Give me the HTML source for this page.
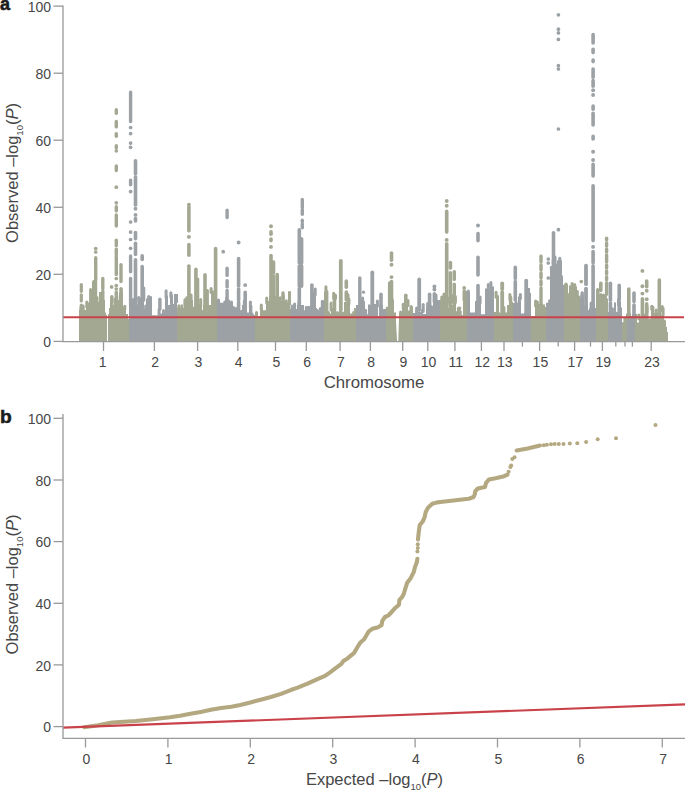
<!DOCTYPE html>
<html><head><meta charset="utf-8"><style>
html,body{margin:0;padding:0;background:#fff;}
body{width:685px;height:791px;overflow:hidden;position:relative;}
svg{position:absolute;left:0;top:0;}
text{font-family:"Liberation Sans",sans-serif;fill:#474747;}
</style></head><body>
<svg width="685" height="791" viewBox="0 0 685 791">
<!-- panel a -->
<text x="0" y="9.7" font-size="18" font-weight="bold" style="fill:#1c1c1c;stroke:#1c1c1c;stroke-width:0.55px">a</text>
<g>
<path d="M79.0,341.4 L79.0,310.0 L86.0,310.0 L86.0,305.0 L89.0,305.0 L89.0,302.0 L92.0,302.0 L92.0,301.5 L98.0,301.5 L98.0,302.0 L99.0,302.0 L99.0,292.0 L104.0,292.0 L104.0,300.0 L105.0,300.0 L105.0,312.5 L106.0,312.5 L106.0,315.0 L107.0,315.0 L107.0,341.4Z" fill="#a3a892"/>
<line x1="81.0" y1="307.0" x2="81.0" y2="312.0" stroke="#a3a892" stroke-width="3" stroke-linecap="round"/>
<line x1="83.2" y1="306.0" x2="83.2" y2="312.0" stroke="#a3a892" stroke-width="3" stroke-linecap="round"/>
<line x1="86.8" y1="302.0" x2="86.8" y2="307.0" stroke="#a3a892" stroke-width="3" stroke-linecap="round"/>
<line x1="88.6" y1="304.0" x2="88.6" y2="307.0" stroke="#a3a892" stroke-width="3" stroke-linecap="round"/>
<line x1="93.4" y1="297.5" x2="93.4" y2="303.5" stroke="#a3a892" stroke-width="3" stroke-linecap="round"/>
<line x1="95.2" y1="300.5" x2="95.2" y2="303.5" stroke="#a3a892" stroke-width="3" stroke-linecap="round"/>
<line x1="97.0" y1="297.5" x2="97.0" y2="303.5" stroke="#a3a892" stroke-width="3" stroke-linecap="round"/>
<path d="M108.0,341.4 L108.0,314.0 L109.0,314.0 L109.0,308.0 L110.0,308.0 L110.0,300.0 L113.0,300.0 L113.0,305.0 L114.0,305.0 L114.0,298.0 L118.0,298.0 L118.0,300.0 L119.0,300.0 L119.0,293.0 L123.0,293.0 L123.0,307.2 L125.0,307.2 L125.0,310.0 L126.0,310.0 L126.0,314.0 L128.0,314.0 L128.0,318.7 L129.0,318.7 L129.0,341.4Z" fill="#a3a892"/>
<line x1="112.0" y1="298.0" x2="112.0" y2="302.0" stroke="#a3a892" stroke-width="3" stroke-linecap="round"/>
<line x1="116.8" y1="296.0" x2="116.8" y2="300.0" stroke="#a3a892" stroke-width="3" stroke-linecap="round"/>
<line x1="121.2" y1="290.0" x2="121.2" y2="295.0" stroke="#a3a892" stroke-width="3" stroke-linecap="round"/>
<line x1="124.8" y1="306.2" x2="124.8" y2="309.2" stroke="#a3a892" stroke-width="3" stroke-linecap="round"/>
<path d="M129.0,341.4 L129.0,304.6 L132.0,304.6 L132.0,304.6 L138.0,304.6 L138.0,298.4 L140.0,298.4 L140.0,300.0 L144.0,300.0 L144.0,309.0 L146.0,309.0 L146.0,298.4 L149.0,298.4 L149.0,296.2 L152.0,296.2 L152.0,315.2 L158.0,315.2 L158.0,313.4 L165.0,313.4 L165.0,295.7 L168.0,295.7 L168.0,305.0 L170.0,305.0 L170.0,294.8 L173.0,294.8 L173.0,304.0 L174.0,304.0 L174.0,293.9 L178.0,293.9 L178.0,302.8 L177.0,302.8 L177.0,341.4Z" fill="#9ca1a5"/>
<line x1="130.5" y1="300.6" x2="130.5" y2="306.6" stroke="#9ca1a5" stroke-width="3" stroke-linecap="round"/>
<line x1="133.1" y1="299.6" x2="133.1" y2="306.6" stroke="#9ca1a5" stroke-width="3" stroke-linecap="round"/>
<line x1="136.1" y1="301.6" x2="136.1" y2="306.6" stroke="#9ca1a5" stroke-width="3" stroke-linecap="round"/>
<line x1="138.7" y1="297.4" x2="138.7" y2="300.4" stroke="#9ca1a5" stroke-width="3" stroke-linecap="round"/>
<line x1="140.9" y1="299.0" x2="140.9" y2="302.0" stroke="#9ca1a5" stroke-width="3" stroke-linecap="round"/>
<line x1="142.7" y1="298.0" x2="142.7" y2="302.0" stroke="#9ca1a5" stroke-width="3" stroke-linecap="round"/>
<line x1="145.7" y1="306.0" x2="145.7" y2="311.0" stroke="#9ca1a5" stroke-width="3" stroke-linecap="round"/>
<line x1="148.7" y1="296.4" x2="148.7" y2="300.4" stroke="#9ca1a5" stroke-width="3" stroke-linecap="round"/>
<line x1="159.1" y1="309.4" x2="159.1" y2="315.4" stroke="#9ca1a5" stroke-width="3" stroke-linecap="round"/>
<line x1="163.5" y1="310.4" x2="163.5" y2="315.4" stroke="#9ca1a5" stroke-width="3" stroke-linecap="round"/>
<line x1="166.1" y1="290.7" x2="166.1" y2="297.7" stroke="#9ca1a5" stroke-width="3" stroke-linecap="round"/>
<line x1="170.9" y1="292.8" x2="170.9" y2="296.8" stroke="#9ca1a5" stroke-width="3" stroke-linecap="round"/>
<path d="M177.0,341.4 L177.0,307.7 L184.0,307.7 L184.0,302.8 L187.0,302.8 L187.0,303.0 L190.0,303.0 L190.0,300.1 L193.0,300.1 L193.0,309.0 L194.0,309.0 L194.0,305.0 L198.0,305.0 L198.0,304.6 L202.0,304.6 L202.0,309.9 L203.0,309.9 L203.0,305.0 L208.0,305.0 L208.0,305.0 L211.0,305.0 L211.0,290.4 L214.0,290.4 L214.0,300.0 L217.0,300.0 L217.0,341.4Z" fill="#a3a892"/>
<line x1="178.9" y1="305.7" x2="178.9" y2="309.7" stroke="#a3a892" stroke-width="3" stroke-linecap="round"/>
<line x1="181.9" y1="305.7" x2="181.9" y2="309.7" stroke="#a3a892" stroke-width="3" stroke-linecap="round"/>
<line x1="184.9" y1="299.8" x2="184.9" y2="304.8" stroke="#a3a892" stroke-width="3" stroke-linecap="round"/>
<line x1="186.7" y1="297.8" x2="186.7" y2="304.8" stroke="#a3a892" stroke-width="3" stroke-linecap="round"/>
<line x1="191.1" y1="295.1" x2="191.1" y2="302.1" stroke="#a3a892" stroke-width="3" stroke-linecap="round"/>
<line x1="192.9" y1="308.0" x2="192.9" y2="311.0" stroke="#a3a892" stroke-width="3" stroke-linecap="round"/>
<line x1="197.7" y1="301.0" x2="197.7" y2="307.0" stroke="#a3a892" stroke-width="3" stroke-linecap="round"/>
<line x1="200.7" y1="299.6" x2="200.7" y2="306.6" stroke="#a3a892" stroke-width="3" stroke-linecap="round"/>
<line x1="205.5" y1="301.0" x2="205.5" y2="307.0" stroke="#a3a892" stroke-width="3" stroke-linecap="round"/>
<line x1="211.1" y1="288.4" x2="211.1" y2="292.4" stroke="#a3a892" stroke-width="3" stroke-linecap="round"/>
<line x1="214.1" y1="297.0" x2="214.1" y2="302.0" stroke="#a3a892" stroke-width="3" stroke-linecap="round"/>
<path d="M217.0,341.4 L217.0,307.2 L220.0,307.2 L220.0,302.8 L224.0,302.8 L224.0,303.0 L229.0,303.0 L229.0,302.8 L233.0,302.8 L233.0,311.6 L236.0,311.6 L236.0,309.0 L240.0,309.0 L240.0,315.2 L242.0,315.2 L242.0,305.0 L247.0,305.0 L247.0,312.5 L249.0,312.5 L249.0,305.9 L252.0,305.9 L252.0,315.0 L255.0,315.0 L255.0,341.4Z" fill="#9ca1a5"/>
<line x1="218.2" y1="306.2" x2="218.2" y2="309.2" stroke="#9ca1a5" stroke-width="3" stroke-linecap="round"/>
<line x1="224.8" y1="302.0" x2="224.8" y2="305.0" stroke="#9ca1a5" stroke-width="3" stroke-linecap="round"/>
<line x1="226.6" y1="298.0" x2="226.6" y2="305.0" stroke="#9ca1a5" stroke-width="3" stroke-linecap="round"/>
<line x1="228.8" y1="301.0" x2="228.8" y2="305.0" stroke="#9ca1a5" stroke-width="3" stroke-linecap="round"/>
<line x1="233.6" y1="307.6" x2="233.6" y2="313.6" stroke="#9ca1a5" stroke-width="3" stroke-linecap="round"/>
<line x1="236.2" y1="308.6" x2="236.2" y2="313.6" stroke="#9ca1a5" stroke-width="3" stroke-linecap="round"/>
<line x1="241.4" y1="311.2" x2="241.4" y2="317.2" stroke="#9ca1a5" stroke-width="3" stroke-linecap="round"/>
<line x1="244.4" y1="301.0" x2="244.4" y2="307.0" stroke="#9ca1a5" stroke-width="3" stroke-linecap="round"/>
<line x1="250.4" y1="301.9" x2="250.4" y2="307.9" stroke="#9ca1a5" stroke-width="3" stroke-linecap="round"/>
<line x1="252.2" y1="314.0" x2="252.2" y2="317.0" stroke="#9ca1a5" stroke-width="3" stroke-linecap="round"/>
<path d="M255.0,341.4 L255.0,313.4 L258.0,313.4 L258.0,316.0 L260.0,316.0 L260.0,308.1 L263.0,308.1 L263.0,310.3 L266.0,310.3 L266.0,301.0 L269.0,301.0 L269.0,300.0 L276.0,300.0 L276.0,302.0 L279.0,302.0 L279.0,302.8 L281.0,302.8 L281.0,301.0 L285.0,301.0 L285.0,302.8 L288.0,302.8 L288.0,291.3 L291.0,291.3 L291.0,305.0 L290.0,305.0 L290.0,341.4Z" fill="#a3a892"/>
<line x1="256.5" y1="312.4" x2="256.5" y2="315.4" stroke="#a3a892" stroke-width="3" stroke-linecap="round"/>
<line x1="261.3" y1="305.1" x2="261.3" y2="310.1" stroke="#a3a892" stroke-width="3" stroke-linecap="round"/>
<line x1="266.7" y1="298.0" x2="266.7" y2="303.0" stroke="#a3a892" stroke-width="3" stroke-linecap="round"/>
<line x1="270.7" y1="296.0" x2="270.7" y2="302.0" stroke="#a3a892" stroke-width="3" stroke-linecap="round"/>
<line x1="272.9" y1="298.0" x2="272.9" y2="302.0" stroke="#a3a892" stroke-width="3" stroke-linecap="round"/>
<line x1="275.5" y1="297.0" x2="275.5" y2="302.0" stroke="#a3a892" stroke-width="3" stroke-linecap="round"/>
<line x1="280.3" y1="297.8" x2="280.3" y2="304.8" stroke="#a3a892" stroke-width="3" stroke-linecap="round"/>
<line x1="283.3" y1="296.0" x2="283.3" y2="303.0" stroke="#a3a892" stroke-width="3" stroke-linecap="round"/>
<line x1="286.3" y1="300.8" x2="286.3" y2="304.8" stroke="#a3a892" stroke-width="3" stroke-linecap="round"/>
<path d="M290.0,341.4 L290.0,309.0 L297.0,309.0 L297.0,305.0 L304.0,305.0 L304.0,310.3 L310.0,310.3 L310.0,310.3 L314.0,310.3 L314.0,293.0 L315.0,293.0 L315.0,308.1 L317.0,308.1 L317.0,311.6 L321.0,311.6 L321.0,301.5 L324.0,301.5 L324.0,311.0 L324.0,311.0 L324.0,341.4Z" fill="#9ca1a5"/>
<line x1="292.0" y1="306.0" x2="292.0" y2="311.0" stroke="#9ca1a5" stroke-width="3" stroke-linecap="round"/>
<line x1="294.6" y1="304.0" x2="294.6" y2="311.0" stroke="#9ca1a5" stroke-width="3" stroke-linecap="round"/>
<line x1="299.0" y1="302.0" x2="299.0" y2="307.0" stroke="#9ca1a5" stroke-width="3" stroke-linecap="round"/>
<line x1="306.4" y1="307.3" x2="306.4" y2="312.3" stroke="#9ca1a5" stroke-width="3" stroke-linecap="round"/>
<line x1="308.6" y1="307.3" x2="308.6" y2="312.3" stroke="#9ca1a5" stroke-width="3" stroke-linecap="round"/>
<line x1="310.8" y1="307.3" x2="310.8" y2="312.3" stroke="#9ca1a5" stroke-width="3" stroke-linecap="round"/>
<line x1="313.0" y1="309.3" x2="313.0" y2="312.3" stroke="#9ca1a5" stroke-width="3" stroke-linecap="round"/>
<line x1="315.2" y1="289.0" x2="315.2" y2="295.0" stroke="#9ca1a5" stroke-width="3" stroke-linecap="round"/>
<line x1="317.4" y1="310.6" x2="317.4" y2="313.6" stroke="#9ca1a5" stroke-width="3" stroke-linecap="round"/>
<line x1="320.4" y1="308.6" x2="320.4" y2="313.6" stroke="#9ca1a5" stroke-width="3" stroke-linecap="round"/>
<path d="M324.0,341.4 L324.0,291.7 L328.0,291.7 L328.0,313.4 L331.0,313.4 L331.0,308.1 L333.0,308.1 L333.0,296.2 L336.0,296.2 L336.0,313.4 L339.0,313.4 L339.0,313.0 L343.0,313.0 L343.0,314.0 L344.0,314.0 L344.0,301.9 L350.0,301.9 L350.0,313.4 L354.0,313.4 L354.0,308.1 L356.0,308.1 L356.0,341.4Z" fill="#a3a892"/>
<line x1="325.9" y1="286.7" x2="325.9" y2="293.7" stroke="#a3a892" stroke-width="3" stroke-linecap="round"/>
<line x1="328.5" y1="312.4" x2="328.5" y2="315.4" stroke="#a3a892" stroke-width="3" stroke-linecap="round"/>
<line x1="331.1" y1="303.1" x2="331.1" y2="310.1" stroke="#a3a892" stroke-width="3" stroke-linecap="round"/>
<line x1="333.7" y1="293.2" x2="333.7" y2="298.2" stroke="#a3a892" stroke-width="3" stroke-linecap="round"/>
<line x1="335.5" y1="295.2" x2="335.5" y2="298.2" stroke="#a3a892" stroke-width="3" stroke-linecap="round"/>
<line x1="337.3" y1="312.4" x2="337.3" y2="315.4" stroke="#a3a892" stroke-width="3" stroke-linecap="round"/>
<line x1="340.3" y1="312.0" x2="340.3" y2="315.0" stroke="#a3a892" stroke-width="3" stroke-linecap="round"/>
<line x1="342.9" y1="313.0" x2="342.9" y2="316.0" stroke="#a3a892" stroke-width="3" stroke-linecap="round"/>
<line x1="348.9" y1="298.9" x2="348.9" y2="303.9" stroke="#a3a892" stroke-width="3" stroke-linecap="round"/>
<line x1="353.7" y1="312.4" x2="353.7" y2="315.4" stroke="#a3a892" stroke-width="3" stroke-linecap="round"/>
<path d="M356.0,341.4 L356.0,305.0 L362.0,305.0 L362.0,301.9 L365.0,301.9 L365.0,314.3 L368.0,314.3 L368.0,304.6 L371.0,304.6 L371.0,305.0 L374.0,305.0 L374.0,304.1 L378.0,304.1 L378.0,316.0 L379.0,316.0 L379.0,305.0 L383.0,305.0 L383.0,309.0 L386.0,309.0 L386.0,341.4Z" fill="#9ca1a5"/>
<line x1="360.8" y1="302.0" x2="360.8" y2="307.0" stroke="#9ca1a5" stroke-width="3" stroke-linecap="round"/>
<line x1="362.6" y1="297.9" x2="362.6" y2="303.9" stroke="#9ca1a5" stroke-width="3" stroke-linecap="round"/>
<line x1="365.6" y1="310.3" x2="365.6" y2="316.3" stroke="#9ca1a5" stroke-width="3" stroke-linecap="round"/>
<line x1="377.4" y1="301.1" x2="377.4" y2="306.1" stroke="#9ca1a5" stroke-width="3" stroke-linecap="round"/>
<path d="M386.0,341.4 L386.0,309.0 L388.0,309.0 L388.0,300.0 L394.0,300.0 L394.0,312.5 L396.0,312.5 L396.0,341.4Z" fill="#a3a892"/>
<line x1="387.2" y1="308.0" x2="387.2" y2="311.0" stroke="#a3a892" stroke-width="3" stroke-linecap="round"/>
<line x1="392.0" y1="299.0" x2="392.0" y2="302.0" stroke="#a3a892" stroke-width="3" stroke-linecap="round"/>
<path d="M399.0,341.4 L399.0,313.0 L402.0,313.0 L402.0,306.3 L404.0,306.3 L404.0,303.0 L408.0,303.0 L408.0,303.5 L408.0,303.5 L408.0,310.4 L411.0,310.4 L411.0,306.3 L413.0,306.3 L413.0,341.4Z" fill="#a3a892"/>
<line x1="400.6" y1="312.0" x2="400.6" y2="315.0" stroke="#a3a892" stroke-width="3" stroke-linecap="round"/>
<line x1="403.2" y1="304.3" x2="403.2" y2="308.3" stroke="#a3a892" stroke-width="3" stroke-linecap="round"/>
<line x1="408.0" y1="300.5" x2="408.0" y2="305.5" stroke="#a3a892" stroke-width="3" stroke-linecap="round"/>
<line x1="411.0" y1="306.4" x2="411.0" y2="312.4" stroke="#a3a892" stroke-width="3" stroke-linecap="round"/>
<path d="M413.0,341.4 L413.0,313.0 L417.0,313.0 L417.0,312.0 L421.0,312.0 L421.0,309.5 L423.0,309.5 L423.0,314.0 L426.0,314.0 L426.0,308.4 L428.0,308.4 L428.0,308.0 L431.0,308.0 L431.0,307.8 L433.0,307.8 L433.0,300.0 L436.0,300.0 L436.0,299.9 L440.0,299.9 L440.0,341.4Z" fill="#9ca1a5"/>
<line x1="416.6" y1="308.0" x2="416.6" y2="315.0" stroke="#9ca1a5" stroke-width="3" stroke-linecap="round"/>
<line x1="423.2" y1="304.5" x2="423.2" y2="311.5" stroke="#9ca1a5" stroke-width="3" stroke-linecap="round"/>
<line x1="427.6" y1="303.4" x2="427.6" y2="310.4" stroke="#9ca1a5" stroke-width="3" stroke-linecap="round"/>
<line x1="431.6" y1="306.8" x2="431.6" y2="309.8" stroke="#9ca1a5" stroke-width="3" stroke-linecap="round"/>
<line x1="436.0" y1="294.9" x2="436.0" y2="301.9" stroke="#9ca1a5" stroke-width="3" stroke-linecap="round"/>
<path d="M440.0,341.4 L440.0,300.0 L442.0,300.0 L442.0,296.0 L445.0,296.0 L445.0,305.0 L448.0,305.0 L448.0,307.7 L449.0,307.7 L449.0,300.0 L452.0,300.0 L452.0,305.0 L453.0,305.0 L453.0,300.5 L456.0,300.5 L456.0,311.3 L459.0,311.3 L459.0,312.5 L461.0,312.5 L461.0,315.0 L463.0,315.0 L463.0,291.0 L467.0,291.0 L467.0,341.4Z" fill="#a3a892"/>
<line x1="441.8" y1="297.0" x2="441.8" y2="302.0" stroke="#a3a892" stroke-width="3" stroke-linecap="round"/>
<line x1="444.0" y1="294.0" x2="444.0" y2="298.0" stroke="#a3a892" stroke-width="3" stroke-linecap="round"/>
<line x1="447.0" y1="300.0" x2="447.0" y2="307.0" stroke="#a3a892" stroke-width="3" stroke-linecap="round"/>
<line x1="449.2" y1="298.0" x2="449.2" y2="302.0" stroke="#a3a892" stroke-width="3" stroke-linecap="round"/>
<line x1="451.4" y1="295.0" x2="451.4" y2="302.0" stroke="#a3a892" stroke-width="3" stroke-linecap="round"/>
<line x1="453.6" y1="296.5" x2="453.6" y2="302.5" stroke="#a3a892" stroke-width="3" stroke-linecap="round"/>
<line x1="455.4" y1="296.5" x2="455.4" y2="302.5" stroke="#a3a892" stroke-width="3" stroke-linecap="round"/>
<line x1="458.4" y1="308.3" x2="458.4" y2="313.3" stroke="#a3a892" stroke-width="3" stroke-linecap="round"/>
<line x1="460.2" y1="311.5" x2="460.2" y2="314.5" stroke="#a3a892" stroke-width="3" stroke-linecap="round"/>
<path d="M467.0,341.4 L467.0,293.0 L470.0,293.0 L470.0,312.5 L475.0,312.5 L475.0,301.0 L481.0,301.0 L481.0,314.3 L485.0,314.3 L485.0,288.5 L488.0,288.5 L488.0,290.0 L491.0,290.0 L491.0,286.5 L494.0,286.5 L494.0,289.0 L494.0,289.0 L494.0,341.4Z" fill="#9ca1a5"/>
<line x1="468.3" y1="291.0" x2="468.3" y2="295.0" stroke="#9ca1a5" stroke-width="3" stroke-linecap="round"/>
<line x1="478.3" y1="300.0" x2="478.3" y2="303.0" stroke="#9ca1a5" stroke-width="3" stroke-linecap="round"/>
<line x1="480.1" y1="297.0" x2="480.1" y2="303.0" stroke="#9ca1a5" stroke-width="3" stroke-linecap="round"/>
<line x1="488.3" y1="284.5" x2="488.3" y2="290.5" stroke="#9ca1a5" stroke-width="3" stroke-linecap="round"/>
<line x1="490.9" y1="282.5" x2="490.9" y2="288.5" stroke="#9ca1a5" stroke-width="3" stroke-linecap="round"/>
<path d="M494.0,341.4 L494.0,312.0 L496.0,312.0 L496.0,295.3 L499.0,295.3 L499.0,312.5 L504.0,312.5 L504.0,312.5 L507.0,312.5 L507.0,305.0 L509.0,305.0 L509.0,297.5 L512.0,297.5 L512.0,301.9 L513.0,301.9 L513.0,341.4Z" fill="#a3a892"/>
<line x1="496.1" y1="292.3" x2="496.1" y2="297.3" stroke="#a3a892" stroke-width="3" stroke-linecap="round"/>
<line x1="503.9" y1="307.5" x2="503.9" y2="314.5" stroke="#a3a892" stroke-width="3" stroke-linecap="round"/>
<line x1="509.9" y1="294.5" x2="509.9" y2="299.5" stroke="#a3a892" stroke-width="3" stroke-linecap="round"/>
<path d="M513.0,341.4 L513.0,303.0 L518.0,303.0 L518.0,296.6 L521.0,296.6 L521.0,313.4 L524.0,313.4 L524.0,313.0 L528.0,313.0 L528.0,288.0 L530.0,288.0 L530.0,293.0 L531.0,293.0 L531.0,341.4Z" fill="#9ca1a5"/>
<line x1="516.0" y1="302.0" x2="516.0" y2="305.0" stroke="#9ca1a5" stroke-width="3" stroke-linecap="round"/>
<line x1="520.4" y1="294.6" x2="520.4" y2="298.6" stroke="#9ca1a5" stroke-width="3" stroke-linecap="round"/>
<line x1="527.8" y1="311.0" x2="527.8" y2="315.0" stroke="#9ca1a5" stroke-width="3" stroke-linecap="round"/>
<path d="M531.0,341.4 L531.0,316.0 L535.0,316.0 L535.0,304.1 L540.0,304.1 L540.0,303.7 L543.0,303.7 L543.0,304.6 L545.0,304.6 L545.0,307.0 L546.0,307.0 L546.0,341.4Z" fill="#a3a892"/>
<line x1="535.6" y1="301.1" x2="535.6" y2="306.1" stroke="#a3a892" stroke-width="3" stroke-linecap="round"/>
<line x1="537.4" y1="302.1" x2="537.4" y2="306.1" stroke="#a3a892" stroke-width="3" stroke-linecap="round"/>
<path d="M546.0,341.4 L546.0,302.8 L550.0,302.8 L550.0,268.3 L552.0,268.3 L552.0,262.0 L556.0,262.0 L556.0,268.0 L557.0,268.0 L557.0,260.3 L562.0,260.3 L562.0,275.4 L563.0,275.4 L563.0,285.0 L564.0,285.0 L564.0,341.4Z" fill="#9ca1a5"/>
<line x1="549.6" y1="300.8" x2="549.6" y2="304.8" stroke="#9ca1a5" stroke-width="3" stroke-linecap="round"/>
<line x1="551.4" y1="267.3" x2="551.4" y2="270.3" stroke="#9ca1a5" stroke-width="3" stroke-linecap="round"/>
<line x1="553.2" y1="260.0" x2="553.2" y2="264.0" stroke="#9ca1a5" stroke-width="3" stroke-linecap="round"/>
<line x1="555.0" y1="257.0" x2="555.0" y2="264.0" stroke="#9ca1a5" stroke-width="3" stroke-linecap="round"/>
<line x1="556.8" y1="265.0" x2="556.8" y2="270.0" stroke="#9ca1a5" stroke-width="3" stroke-linecap="round"/>
<line x1="559.8" y1="258.3" x2="559.8" y2="262.3" stroke="#9ca1a5" stroke-width="3" stroke-linecap="round"/>
<path d="M564.0,341.4 L564.0,284.2 L568.0,284.2 L568.0,296.6 L569.0,296.6 L569.0,285.5 L576.0,285.5 L576.0,286.4 L577.0,286.4 L577.0,296.6 L578.0,296.6 L578.0,295.7 L580.0,295.7 L580.0,341.4Z" fill="#a3a892"/>
<line x1="568.1" y1="294.6" x2="568.1" y2="298.6" stroke="#a3a892" stroke-width="3" stroke-linecap="round"/>
<line x1="572.1" y1="283.5" x2="572.1" y2="287.5" stroke="#a3a892" stroke-width="3" stroke-linecap="round"/>
<line x1="574.7" y1="284.5" x2="574.7" y2="287.5" stroke="#a3a892" stroke-width="3" stroke-linecap="round"/>
<line x1="577.3" y1="291.6" x2="577.3" y2="298.6" stroke="#a3a892" stroke-width="3" stroke-linecap="round"/>
<path d="M580.0,341.4 L580.0,298.0 L584.0,298.0 L584.0,305.0 L588.0,305.0 L588.0,310.0 L589.0,310.0 L589.0,308.1 L592.0,308.1 L592.0,308.0 L596.0,308.0 L596.0,310.0 L596.0,310.0 L596.0,341.4Z" fill="#9ca1a5"/>
<line x1="581.9" y1="296.0" x2="581.9" y2="300.0" stroke="#9ca1a5" stroke-width="3" stroke-linecap="round"/>
<line x1="591.1" y1="303.1" x2="591.1" y2="310.1" stroke="#9ca1a5" stroke-width="3" stroke-linecap="round"/>
<line x1="593.3" y1="303.0" x2="593.3" y2="310.0" stroke="#9ca1a5" stroke-width="3" stroke-linecap="round"/>
<path d="M596.0,341.4 L596.0,293.5 L599.0,293.5 L599.0,298.5 L602.0,298.5 L602.0,296.0 L605.0,296.0 L605.0,298.5 L608.0,298.5 L608.0,341.4Z" fill="#a3a892"/>
<line x1="597.6" y1="289.5" x2="597.6" y2="295.5" stroke="#a3a892" stroke-width="3" stroke-linecap="round"/>
<line x1="600.6" y1="294.5" x2="600.6" y2="300.5" stroke="#a3a892" stroke-width="3" stroke-linecap="round"/>
<line x1="603.2" y1="295.0" x2="603.2" y2="298.0" stroke="#a3a892" stroke-width="3" stroke-linecap="round"/>
<line x1="605.4" y1="295.5" x2="605.4" y2="300.5" stroke="#a3a892" stroke-width="3" stroke-linecap="round"/>
<path d="M608.0,341.4 L608.0,311.7 L609.0,311.7 L609.0,302.8 L612.0,302.8 L612.0,311.7 L614.0,311.7 L614.0,302.5 L616.0,302.5 L616.0,311.7 L618.0,311.7 L618.0,303.0 L620.0,303.0 L620.0,307.5 L622.0,307.5 L622.0,341.4Z" fill="#9ca1a5"/>
<line x1="612.4" y1="308.7" x2="612.4" y2="313.7" stroke="#9ca1a5" stroke-width="3" stroke-linecap="round"/>
<line x1="618.6" y1="299.0" x2="618.6" y2="305.0" stroke="#9ca1a5" stroke-width="3" stroke-linecap="round"/>
<path d="M622.0,341.4 L622.0,322.3 L626.0,322.3 L626.0,313.5 L627.0,313.5 L627.0,341.4Z" fill="#a3a892"/>
<line x1="624.9" y1="318.3" x2="624.9" y2="324.3" stroke="#a3a892" stroke-width="3" stroke-linecap="round"/>
<path d="M627.0,341.4 L627.0,313.7 L630.0,313.7 L630.0,313.7 L631.0,313.7 L631.0,316.0 L632.0,316.0 L632.0,314.0 L635.0,314.0 L635.0,341.4Z" fill="#9ca1a5"/>
<line x1="628.9" y1="312.7" x2="628.9" y2="315.7" stroke="#9ca1a5" stroke-width="3" stroke-linecap="round"/>
<path d="M635.0,341.4 L635.0,314.0 L637.0,314.0 L637.0,322.5 L639.0,322.5 L639.0,317.0 L641.0,317.0 L641.0,305.0 L644.0,305.0 L644.0,318.0 L645.0,318.0 L645.0,310.0 L648.0,310.0 L648.0,318.6 L651.0,318.6 L651.0,307.3 L654.0,307.3 L654.0,313.0 L658.0,313.0 L658.0,313.0 L661.0,313.0 L661.0,315.0 L662.0,315.0 L662.0,308.4 L664.0,308.4 L664.0,322.0 L666.0,322.0 L666.0,327.0 L667.0,327.0 L667.0,332.0 L668.0,332.0 L668.0,341.4Z" fill="#a3a892"/>
<line x1="638.8" y1="315.0" x2="638.8" y2="319.0" stroke="#a3a892" stroke-width="3" stroke-linecap="round"/>
<line x1="644.4" y1="315.0" x2="644.4" y2="320.0" stroke="#a3a892" stroke-width="3" stroke-linecap="round"/>
<line x1="647.0" y1="307.0" x2="647.0" y2="312.0" stroke="#a3a892" stroke-width="3" stroke-linecap="round"/>
<line x1="651.8" y1="306.3" x2="651.8" y2="309.3" stroke="#a3a892" stroke-width="3" stroke-linecap="round"/>
<line x1="656.2" y1="310.0" x2="656.2" y2="315.0" stroke="#a3a892" stroke-width="3" stroke-linecap="round"/>
<line x1="662.2" y1="306.4" x2="662.2" y2="310.4" stroke="#a3a892" stroke-width="3" stroke-linecap="round"/>
<line x1="664.4" y1="321.0" x2="664.4" y2="324.0" stroke="#a3a892" stroke-width="3" stroke-linecap="round"/>
<path d="M395.8,318 L397.1,341.4 L395.8,341.4Z M399.1,314 L398.3,341.4 L399.1,341.4Z" fill="#a3a892"/>
<line x1="81.3" y1="284.6" x2="81.3" y2="291.3" stroke="#a3a892" stroke-width="3.2" stroke-linecap="round"/>
<line x1="81.3" y1="294.8" x2="81.3" y2="301" stroke="#a3a892" stroke-width="3.2" stroke-linecap="round"/>
<line x1="81.3" y1="305" x2="81.3" y2="312" stroke="#a3a892" stroke-width="3.2" stroke-linecap="round"/>
<line x1="90.6" y1="289.5" x2="90.6" y2="305" stroke="#a3a892" stroke-width="3" stroke-linecap="round"/>
<line x1="94.6" y1="282.4" x2="94.6" y2="305" stroke="#a3a892" stroke-width="5.2" stroke-linecap="round"/>
<circle cx="95.7" cy="248.5" r="1.85" fill="#a3a892"/>
<circle cx="95.7" cy="252" r="1.85" fill="#a3a892"/>
<line x1="95.7" y1="257.7" x2="95.7" y2="280" stroke="#a3a892" stroke-width="3.4" stroke-linecap="round"/>
<line x1="102.8" y1="278.5" x2="102.8" y2="288.6" stroke="#a3a892" stroke-width="3.4" stroke-linecap="round"/>
<line x1="102.8" y1="291" x2="102.8" y2="300" stroke="#a3a892" stroke-width="3.4" stroke-linecap="round"/>
<line x1="111.8" y1="296.6" x2="111.8" y2="305" stroke="#a3a892" stroke-width="3.4" stroke-linecap="round"/>
<circle cx="111.6" cy="286.9" r="1.85" fill="#a3a892"/>
<line x1="116.3" y1="109.8" x2="116.3" y2="113.2" stroke="#a3a892" stroke-width="3.4" stroke-linecap="round"/>
<line x1="116.3" y1="121.5" x2="116.3" y2="126.9" stroke="#a3a892" stroke-width="3.4" stroke-linecap="round"/>
<line x1="116.3" y1="133.6" x2="116.3" y2="136.2" stroke="#a3a892" stroke-width="3.4" stroke-linecap="round"/>
<line x1="116.3" y1="145.7" x2="116.3" y2="147.7" stroke="#a3a892" stroke-width="3.4" stroke-linecap="round"/>
<circle cx="116.3" cy="150.8" r="1.85" fill="#a3a892"/>
<line x1="116.3" y1="166" x2="116.3" y2="170.6" stroke="#a3a892" stroke-width="3.4" stroke-linecap="round"/>
<circle cx="116.3" cy="187.2" r="1.85" fill="#a3a892"/>
<circle cx="116.3" cy="202.8" r="1.85" fill="#a3a892"/>
<line x1="116.3" y1="206.8" x2="116.3" y2="210.9" stroke="#a3a892" stroke-width="3.4" stroke-linecap="round"/>
<line x1="116.3" y1="214.9" x2="116.3" y2="226" stroke="#a3a892" stroke-width="3.4" stroke-linecap="round"/>
<line x1="116.3" y1="240.2" x2="116.3" y2="245.8" stroke="#a3a892" stroke-width="3.4" stroke-linecap="round"/>
<line x1="116.3" y1="249.3" x2="116.3" y2="254.9" stroke="#a3a892" stroke-width="3.4" stroke-linecap="round"/>
<line x1="116.3" y1="256.5" x2="116.3" y2="274.5" stroke="#a3a892" stroke-width="3.4" stroke-linecap="round"/>
<circle cx="116.3" cy="278.5" r="1.85" fill="#a3a892"/>
<circle cx="116.3" cy="285.5" r="1.85" fill="#a3a892"/>
<circle cx="116.3" cy="289" r="1.85" fill="#a3a892"/>
<line x1="116.3" y1="292.2" x2="116.3" y2="305" stroke="#a3a892" stroke-width="3.4" stroke-linecap="round"/>
<line x1="121" y1="264.7" x2="121" y2="281.5" stroke="#a3a892" stroke-width="3.4" stroke-linecap="round"/>
<line x1="121" y1="288.6" x2="121" y2="310" stroke="#a3a892" stroke-width="3.4" stroke-linecap="round"/>
<line x1="130.6" y1="92.1" x2="130.6" y2="121.5" stroke="#9ca1a5" stroke-width="3.4" stroke-linecap="round"/>
<circle cx="130.6" cy="127.5" r="1.85" fill="#9ca1a5"/>
<circle cx="130.6" cy="133.6" r="1.85" fill="#9ca1a5"/>
<circle cx="130.6" cy="143.1" r="1.85" fill="#9ca1a5"/>
<circle cx="130.6" cy="147.3" r="1.85" fill="#9ca1a5"/>
<line x1="130.6" y1="180.1" x2="130.6" y2="184.8" stroke="#9ca1a5" stroke-width="3.4" stroke-linecap="round"/>
<circle cx="130.6" cy="191.6" r="1.85" fill="#9ca1a5"/>
<circle cx="130.6" cy="222" r="1.85" fill="#9ca1a5"/>
<circle cx="130.6" cy="232.1" r="1.85" fill="#9ca1a5"/>
<circle cx="130.6" cy="239.5" r="1.85" fill="#9ca1a5"/>
<circle cx="130.6" cy="248.3" r="1.85" fill="#9ca1a5"/>
<line x1="130.6" y1="255.9" x2="130.6" y2="271.8" stroke="#9ca1a5" stroke-width="3.4" stroke-linecap="round"/>
<line x1="130.6" y1="278.5" x2="130.6" y2="305" stroke="#9ca1a5" stroke-width="3.4" stroke-linecap="round"/>
<line x1="135.5" y1="160.9" x2="135.5" y2="174" stroke="#9ca1a5" stroke-width="3.6" stroke-linecap="round"/>
<line x1="135.5" y1="177.1" x2="135.5" y2="203.4" stroke="#9ca1a5" stroke-width="3.6" stroke-linecap="round"/>
<circle cx="135.5" cy="204.8" r="1.95" fill="#9ca1a5"/>
<circle cx="135.5" cy="208.8" r="1.95" fill="#9ca1a5"/>
<circle cx="135.5" cy="214.9" r="1.95" fill="#9ca1a5"/>
<line x1="135.5" y1="218.5" x2="135.5" y2="221" stroke="#9ca1a5" stroke-width="3.6" stroke-linecap="round"/>
<line x1="135.5" y1="232.6" x2="135.5" y2="238.7" stroke="#9ca1a5" stroke-width="3.6" stroke-linecap="round"/>
<line x1="135.5" y1="243.3" x2="135.5" y2="254.4" stroke="#9ca1a5" stroke-width="3.6" stroke-linecap="round"/>
<line x1="135.5" y1="259.9" x2="135.5" y2="305" stroke="#9ca1a5" stroke-width="3.6" stroke-linecap="round"/>
<line x1="142.2" y1="255.9" x2="142.2" y2="259.4" stroke="#9ca1a5" stroke-width="3.6" stroke-linecap="round"/>
<line x1="142.2" y1="266.5" x2="142.2" y2="273.6" stroke="#9ca1a5" stroke-width="3.6" stroke-linecap="round"/>
<line x1="142.2" y1="274.9" x2="142.2" y2="300" stroke="#9ca1a5" stroke-width="3.6" stroke-linecap="round"/>
<line x1="143.8" y1="288" x2="143.8" y2="300" stroke="#9ca1a5" stroke-width="3" stroke-linecap="round"/>
<line x1="159.9" y1="299.2" x2="159.9" y2="309" stroke="#9ca1a5" stroke-width="3.4" stroke-linecap="round"/>
<circle cx="188.9" cy="204.7" r="1.95" fill="#a3a892"/>
<line x1="188.9" y1="207.3" x2="188.9" y2="230.8" stroke="#a3a892" stroke-width="3.6" stroke-linecap="round"/>
<circle cx="188.9" cy="236.9" r="1.95" fill="#a3a892"/>
<line x1="188.9" y1="244.6" x2="188.9" y2="255.3" stroke="#a3a892" stroke-width="3.6" stroke-linecap="round"/>
<circle cx="188.9" cy="266.3" r="1.95" fill="#a3a892"/>
<line x1="188.9" y1="268.5" x2="188.9" y2="305" stroke="#a3a892" stroke-width="3.6" stroke-linecap="round"/>
<line x1="195.9" y1="269.2" x2="195.9" y2="305" stroke="#a3a892" stroke-width="3.6" stroke-linecap="round"/>
<line x1="197.8" y1="278.9" x2="197.8" y2="305" stroke="#a3a892" stroke-width="3" stroke-linecap="round"/>
<line x1="205" y1="274.9" x2="205" y2="305" stroke="#a3a892" stroke-width="3.6" stroke-linecap="round"/>
<line x1="207.4" y1="290.4" x2="207.4" y2="305" stroke="#a3a892" stroke-width="3" stroke-linecap="round"/>
<line x1="215.6" y1="248.6" x2="215.6" y2="300" stroke="#a3a892" stroke-width="3.6" stroke-linecap="round"/>
<line x1="218.5" y1="300.1" x2="218.5" y2="308" stroke="#9ca1a5" stroke-width="3.2" stroke-linecap="round"/>
<circle cx="223.2" cy="251.7" r="1.85" fill="#9ca1a5"/>
<line x1="227.1" y1="210.3" x2="227.1" y2="217.5" stroke="#9ca1a5" stroke-width="3.4" stroke-linecap="round"/>
<line x1="227.1" y1="268.3" x2="227.1" y2="275.4" stroke="#9ca1a5" stroke-width="3.4" stroke-linecap="round"/>
<line x1="227.1" y1="280.7" x2="227.1" y2="286.9" stroke="#9ca1a5" stroke-width="3.4" stroke-linecap="round"/>
<line x1="227.1" y1="290.4" x2="227.1" y2="305" stroke="#9ca1a5" stroke-width="3.4" stroke-linecap="round"/>
<line x1="231.5" y1="301.9" x2="231.5" y2="305" stroke="#9ca1a5" stroke-width="3" stroke-linecap="round"/>
<circle cx="238.6" cy="242.5" r="1.95" fill="#9ca1a5"/>
<line x1="238.6" y1="258.5" x2="238.6" y2="286" stroke="#9ca1a5" stroke-width="3.6" stroke-linecap="round"/>
<line x1="238.6" y1="289" x2="238.6" y2="300" stroke="#9ca1a5" stroke-width="3.6" stroke-linecap="round"/>
<line x1="238.6" y1="302" x2="238.6" y2="310" stroke="#9ca1a5" stroke-width="3.6" stroke-linecap="round"/>
<circle cx="245.2" cy="285.1" r="1.95" fill="#9ca1a5"/>
<line x1="245.2" y1="292.2" x2="245.2" y2="310" stroke="#9ca1a5" stroke-width="3.6" stroke-linecap="round"/>
<line x1="250.8" y1="306.3" x2="250.8" y2="312" stroke="#9ca1a5" stroke-width="3.2" stroke-linecap="round"/>
<circle cx="271" cy="226.3" r="1.95" fill="#a3a892"/>
<line x1="271" y1="231.9" x2="271" y2="234.2" stroke="#a3a892" stroke-width="3.6" stroke-linecap="round"/>
<line x1="271" y1="239" x2="271" y2="240.6" stroke="#a3a892" stroke-width="3.6" stroke-linecap="round"/>
<circle cx="271" cy="246.9" r="1.95" fill="#a3a892"/>
<line x1="271" y1="255.6" x2="271" y2="302" stroke="#a3a892" stroke-width="3.6" stroke-linecap="round"/>
<line x1="273.5" y1="262" x2="273.5" y2="273" stroke="#a3a892" stroke-width="3.6" stroke-linecap="round"/>
<line x1="273.5" y1="276" x2="273.5" y2="302" stroke="#a3a892" stroke-width="3.6" stroke-linecap="round"/>
<line x1="277.2" y1="274.5" x2="277.2" y2="302" stroke="#a3a892" stroke-width="3.6" stroke-linecap="round"/>
<line x1="283" y1="293" x2="283" y2="298.4" stroke="#a3a892" stroke-width="3.4" stroke-linecap="round"/>
<line x1="302.3" y1="199.4" x2="302.3" y2="207.7" stroke="#9ca1a5" stroke-width="3.4" stroke-linecap="round"/>
<line x1="302.3" y1="209.6" x2="302.3" y2="214.2" stroke="#9ca1a5" stroke-width="3.4" stroke-linecap="round"/>
<line x1="302.3" y1="220.2" x2="302.3" y2="221.7" stroke="#9ca1a5" stroke-width="3.4" stroke-linecap="round"/>
<line x1="302.3" y1="224" x2="302.3" y2="227.8" stroke="#9ca1a5" stroke-width="3.4" stroke-linecap="round"/>
<line x1="299.3" y1="229.7" x2="299.3" y2="263" stroke="#9ca1a5" stroke-width="3.6" stroke-linecap="round"/>
<line x1="299.3" y1="266" x2="299.3" y2="286" stroke="#9ca1a5" stroke-width="3.6" stroke-linecap="round"/>
<line x1="299.3" y1="288.6" x2="299.3" y2="305" stroke="#9ca1a5" stroke-width="3.6" stroke-linecap="round"/>
<line x1="301.5" y1="239" x2="301.5" y2="263" stroke="#9ca1a5" stroke-width="3.8" stroke-linecap="round"/>
<line x1="301.5" y1="266" x2="301.5" y2="286" stroke="#9ca1a5" stroke-width="3.8" stroke-linecap="round"/>
<line x1="311.9" y1="285.1" x2="311.9" y2="310" stroke="#9ca1a5" stroke-width="3.6" stroke-linecap="round"/>
<line x1="314.5" y1="293" x2="314.5" y2="308" stroke="#9ca1a5" stroke-width="3" stroke-linecap="round"/>
<line x1="322.5" y1="301.5" x2="322.5" y2="311" stroke="#9ca1a5" stroke-width="3.4" stroke-linecap="round"/>
<line x1="326.6" y1="291.7" x2="326.6" y2="313" stroke="#a3a892" stroke-width="3.6" stroke-linecap="round"/>
<line x1="334.5" y1="296.2" x2="334.5" y2="310" stroke="#a3a892" stroke-width="3.6" stroke-linecap="round"/>
<line x1="340.8" y1="260.8" x2="340.8" y2="310" stroke="#a3a892" stroke-width="3.8" stroke-linecap="round"/>
<line x1="346.3" y1="281.1" x2="346.3" y2="287.3" stroke="#a3a892" stroke-width="3.6" stroke-linecap="round"/>
<line x1="346.3" y1="292" x2="346.3" y2="300" stroke="#a3a892" stroke-width="3.6" stroke-linecap="round"/>
<line x1="348" y1="294.8" x2="348" y2="305" stroke="#a3a892" stroke-width="3" stroke-linecap="round"/>
<line x1="359.8" y1="278" x2="359.8" y2="305" stroke="#9ca1a5" stroke-width="3.4" stroke-linecap="round"/>
<circle cx="363.5" cy="292.2" r="1.65" fill="#9ca1a5"/>
<line x1="363.5" y1="301.9" x2="363.5" y2="305" stroke="#9ca1a5" stroke-width="3" stroke-linecap="round"/>
<line x1="372.3" y1="272.3" x2="372.3" y2="305" stroke="#9ca1a5" stroke-width="3.8" stroke-linecap="round"/>
<line x1="381" y1="294.4" x2="381" y2="309" stroke="#9ca1a5" stroke-width="3.6" stroke-linecap="round"/>
<line x1="391.5" y1="253" x2="391.5" y2="260.3" stroke="#a3a892" stroke-width="3.6" stroke-linecap="round"/>
<circle cx="391.5" cy="264.7" r="1.95" fill="#a3a892"/>
<circle cx="391.5" cy="277.1" r="1.95" fill="#a3a892"/>
<line x1="391.5" y1="281.5" x2="391.5" y2="305" stroke="#a3a892" stroke-width="3.6" stroke-linecap="round"/>
<line x1="389.6" y1="283" x2="389.6" y2="305" stroke="#a3a892" stroke-width="3.4" stroke-linecap="round"/>
<line x1="405.8" y1="295.3" x2="405.8" y2="306" stroke="#a3a892" stroke-width="3.6" stroke-linecap="round"/>
<line x1="419.2" y1="279.4" x2="419.2" y2="310" stroke="#9ca1a5" stroke-width="3.8" stroke-linecap="round"/>
<line x1="429.6" y1="294.2" x2="429.6" y2="308" stroke="#9ca1a5" stroke-width="3.6" stroke-linecap="round"/>
<circle cx="434.4" cy="286.5" r="1.95" fill="#9ca1a5"/>
<circle cx="434.4" cy="289.5" r="1.95" fill="#9ca1a5"/>
<line x1="434.4" y1="293.7" x2="434.4" y2="302" stroke="#9ca1a5" stroke-width="3.6" stroke-linecap="round"/>
<circle cx="446.7" cy="201" r="1.95" fill="#a3a892"/>
<circle cx="446.7" cy="205.8" r="1.95" fill="#a3a892"/>
<line x1="446.7" y1="211.4" x2="446.7" y2="232.1" stroke="#a3a892" stroke-width="3.6" stroke-linecap="round"/>
<circle cx="446.7" cy="239.9" r="1.95" fill="#a3a892"/>
<line x1="446.7" y1="243.7" x2="446.7" y2="310" stroke="#a3a892" stroke-width="3.6" stroke-linecap="round"/>
<line x1="450.4" y1="262.6" x2="450.4" y2="268" stroke="#a3a892" stroke-width="3.6" stroke-linecap="round"/>
<line x1="450.4" y1="272.8" x2="450.4" y2="305" stroke="#a3a892" stroke-width="3.6" stroke-linecap="round"/>
<line x1="454.3" y1="271.6" x2="454.3" y2="279.4" stroke="#a3a892" stroke-width="3.4" stroke-linecap="round"/>
<line x1="454.3" y1="284.3" x2="454.3" y2="295" stroke="#a3a892" stroke-width="3.4" stroke-linecap="round"/>
<line x1="454.3" y1="297" x2="454.3" y2="305" stroke="#a3a892" stroke-width="3.4" stroke-linecap="round"/>
<circle cx="459.4" cy="308.3" r="1.85" fill="#a3a892"/>
<circle cx="464.2" cy="287.9" r="1.85" fill="#a3a892"/>
<line x1="464.2" y1="290.9" x2="464.2" y2="300" stroke="#a3a892" stroke-width="3.4" stroke-linecap="round"/>
<line x1="468.4" y1="293" x2="468.4" y2="305" stroke="#9ca1a5" stroke-width="3" stroke-linecap="round"/>
<circle cx="478" cy="225.5" r="1.95" fill="#9ca1a5"/>
<line x1="478" y1="233.6" x2="478" y2="240.7" stroke="#9ca1a5" stroke-width="3.6" stroke-linecap="round"/>
<line x1="478" y1="257.2" x2="478" y2="274.9" stroke="#9ca1a5" stroke-width="3.6" stroke-linecap="round"/>
<line x1="478" y1="285.5" x2="478" y2="305" stroke="#9ca1a5" stroke-width="3.6" stroke-linecap="round"/>
<line x1="502.2" y1="283.3" x2="502.2" y2="289" stroke="#a3a892" stroke-width="3.8" stroke-linecap="round"/>
<line x1="502.2" y1="292.2" x2="502.2" y2="312" stroke="#a3a892" stroke-width="3.8" stroke-linecap="round"/>
<line x1="510.6" y1="297.5" x2="510.6" y2="305" stroke="#a3a892" stroke-width="3.4" stroke-linecap="round"/>
<line x1="515.3" y1="267.4" x2="515.3" y2="278.5" stroke="#9ca1a5" stroke-width="3.6" stroke-linecap="round"/>
<line x1="515.3" y1="281.5" x2="515.3" y2="300" stroke="#9ca1a5" stroke-width="3.6" stroke-linecap="round"/>
<line x1="526.2" y1="280.7" x2="526.2" y2="313" stroke="#9ca1a5" stroke-width="3.8" stroke-linecap="round"/>
<line x1="541" y1="256.3" x2="541" y2="262" stroke="#a3a892" stroke-width="3.4" stroke-linecap="round"/>
<line x1="541" y1="265" x2="541" y2="270" stroke="#a3a892" stroke-width="3.4" stroke-linecap="round"/>
<line x1="541" y1="273" x2="541" y2="278" stroke="#a3a892" stroke-width="3.4" stroke-linecap="round"/>
<line x1="541" y1="281" x2="541" y2="285" stroke="#a3a892" stroke-width="3.4" stroke-linecap="round"/>
<line x1="541" y1="288" x2="541" y2="304" stroke="#a3a892" stroke-width="3.4" stroke-linecap="round"/>
<circle cx="548.3" cy="259" r="1.85" fill="#9ca1a5"/>
<circle cx="548.3" cy="263" r="1.85" fill="#9ca1a5"/>
<circle cx="548.3" cy="278" r="1.85" fill="#9ca1a5"/>
<line x1="553.5" y1="232.8" x2="553.5" y2="268" stroke="#9ca1a5" stroke-width="3.6" stroke-linecap="round"/>
<circle cx="558.4" cy="14.8" r="1.85" fill="#9ca1a5"/>
<circle cx="558.4" cy="29.2" r="1.85" fill="#9ca1a5"/>
<circle cx="558.4" cy="32.9" r="1.85" fill="#9ca1a5"/>
<circle cx="558.4" cy="39.4" r="1.85" fill="#9ca1a5"/>
<circle cx="558.4" cy="65.7" r="1.85" fill="#9ca1a5"/>
<circle cx="558.4" cy="69" r="1.85" fill="#9ca1a5"/>
<circle cx="558.4" cy="129" r="1.85" fill="#9ca1a5"/>
<circle cx="558.4" cy="229.7" r="1.85" fill="#9ca1a5"/>
<line x1="566" y1="284.2" x2="566" y2="296" stroke="#a3a892" stroke-width="3.4" stroke-linecap="round"/>
<circle cx="581.3" cy="281.5" r="1.85" fill="#a3a892"/>
<line x1="582.2" y1="293" x2="582.2" y2="300" stroke="#9ca1a5" stroke-width="3.4" stroke-linecap="round"/>
<line x1="586" y1="265.6" x2="586" y2="284.2" stroke="#9ca1a5" stroke-width="3.8" stroke-linecap="round"/>
<line x1="586" y1="288.6" x2="586" y2="305" stroke="#9ca1a5" stroke-width="3.8" stroke-linecap="round"/>
<line x1="593.1" y1="34.5" x2="593.1" y2="43" stroke="#9ca1a5" stroke-width="3.6" stroke-linecap="round"/>
<line x1="593.1" y1="49.3" x2="593.1" y2="52.6" stroke="#9ca1a5" stroke-width="3.6" stroke-linecap="round"/>
<line x1="593.1" y1="60" x2="593.1" y2="61.6" stroke="#9ca1a5" stroke-width="3.6" stroke-linecap="round"/>
<line x1="593.1" y1="69" x2="593.1" y2="77.2" stroke="#9ca1a5" stroke-width="3.6" stroke-linecap="round"/>
<line x1="593.1" y1="80.5" x2="593.1" y2="86.2" stroke="#9ca1a5" stroke-width="3.6" stroke-linecap="round"/>
<circle cx="593.1" cy="90.3" r="1.95" fill="#9ca1a5"/>
<circle cx="593.1" cy="95" r="1.95" fill="#9ca1a5"/>
<line x1="593.1" y1="106" x2="593.1" y2="109.2" stroke="#9ca1a5" stroke-width="3.6" stroke-linecap="round"/>
<line x1="593.1" y1="113.3" x2="593.1" y2="125" stroke="#9ca1a5" stroke-width="3.6" stroke-linecap="round"/>
<line x1="593.1" y1="136.4" x2="593.1" y2="138.9" stroke="#9ca1a5" stroke-width="3.6" stroke-linecap="round"/>
<circle cx="593.1" cy="151.7" r="1.95" fill="#9ca1a5"/>
<circle cx="593.1" cy="160" r="1.95" fill="#9ca1a5"/>
<line x1="593.1" y1="164.4" x2="593.1" y2="175.9" stroke="#9ca1a5" stroke-width="3.6" stroke-linecap="round"/>
<line x1="593.1" y1="185.7" x2="593.1" y2="240.6" stroke="#9ca1a5" stroke-width="3.6" stroke-linecap="round"/>
<circle cx="593.1" cy="246.9" r="1.95" fill="#9ca1a5"/>
<line x1="593.1" y1="251.6" x2="593.1" y2="262.7" stroke="#9ca1a5" stroke-width="3.6" stroke-linecap="round"/>
<line x1="593.1" y1="265.8" x2="593.1" y2="308" stroke="#9ca1a5" stroke-width="3.6" stroke-linecap="round"/>
<line x1="597.8" y1="290.4" x2="597.8" y2="296" stroke="#a3a892" stroke-width="3.4" stroke-linecap="round"/>
<line x1="600.8" y1="283.3" x2="600.8" y2="290.4" stroke="#a3a892" stroke-width="3.6" stroke-linecap="round"/>
<line x1="600.8" y1="295.7" x2="600.8" y2="300" stroke="#a3a892" stroke-width="3.6" stroke-linecap="round"/>
<line x1="606.6" y1="238.2" x2="606.6" y2="240" stroke="#a3a892" stroke-width="3.4" stroke-linecap="round"/>
<line x1="606.6" y1="243" x2="606.6" y2="246" stroke="#a3a892" stroke-width="3.4" stroke-linecap="round"/>
<line x1="606.6" y1="249" x2="606.6" y2="252" stroke="#a3a892" stroke-width="3.4" stroke-linecap="round"/>
<line x1="606.6" y1="255" x2="606.6" y2="262" stroke="#a3a892" stroke-width="3.4" stroke-linecap="round"/>
<line x1="606.6" y1="265" x2="606.6" y2="268" stroke="#a3a892" stroke-width="3.4" stroke-linecap="round"/>
<line x1="606.6" y1="271" x2="606.6" y2="274" stroke="#a3a892" stroke-width="3.4" stroke-linecap="round"/>
<line x1="606.6" y1="277" x2="606.6" y2="280" stroke="#a3a892" stroke-width="3.4" stroke-linecap="round"/>
<line x1="606.6" y1="283" x2="606.6" y2="294.3" stroke="#a3a892" stroke-width="3.4" stroke-linecap="round"/>
<line x1="610.4" y1="283.3" x2="610.4" y2="300.3" stroke="#9ca1a5" stroke-width="3.6" stroke-linecap="round"/>
<line x1="610.4" y1="303" x2="610.4" y2="311" stroke="#9ca1a5" stroke-width="3.6" stroke-linecap="round"/>
<line x1="619.2" y1="285.2" x2="619.2" y2="299.4" stroke="#9ca1a5" stroke-width="3.6" stroke-linecap="round"/>
<line x1="619.2" y1="302" x2="619.2" y2="311" stroke="#9ca1a5" stroke-width="3.6" stroke-linecap="round"/>
<line x1="628.8" y1="289" x2="628.8" y2="318" stroke="#a3a892" stroke-width="3.6" stroke-linecap="round"/>
<line x1="634" y1="293" x2="634" y2="301.6" stroke="#9ca1a5" stroke-width="3.6" stroke-linecap="round"/>
<line x1="634" y1="305" x2="634" y2="318" stroke="#9ca1a5" stroke-width="3.6" stroke-linecap="round"/>
<circle cx="642.4" cy="270.9" r="1.95" fill="#a3a892"/>
<circle cx="642.4" cy="286.3" r="1.95" fill="#a3a892"/>
<circle cx="642.4" cy="293.6" r="1.95" fill="#a3a892"/>
<line x1="642.4" y1="298.8" x2="642.4" y2="318" stroke="#a3a892" stroke-width="3.6" stroke-linecap="round"/>
<line x1="646.7" y1="281.1" x2="646.7" y2="286.8" stroke="#a3a892" stroke-width="3.6" stroke-linecap="round"/>
<circle cx="646.7" cy="290.8" r="1.95" fill="#a3a892"/>
<circle cx="646.7" cy="299.3" r="1.95" fill="#a3a892"/>
<line x1="646.7" y1="303.9" x2="646.7" y2="318" stroke="#a3a892" stroke-width="3.6" stroke-linecap="round"/>
<line x1="652.7" y1="307.3" x2="652.7" y2="313" stroke="#a3a892" stroke-width="3.4" stroke-linecap="round"/>
<line x1="659.3" y1="280" x2="659.3" y2="313" stroke="#a3a892" stroke-width="3.6" stroke-linecap="round"/>
<line x1="663" y1="308.4" x2="663" y2="315" stroke="#a3a892" stroke-width="3.2" stroke-linecap="round"/>
</g>
<line x1="63" y1="317.2" x2="684" y2="317.2" stroke="#c9424a" stroke-width="2.1"/>
<g stroke="#999999" stroke-width="1.3" fill="none">
<path d="M63,5.6 V341.6 H685"/>
<line x1="53.5" y1="341.4" x2="63" y2="341.4"/>
<line x1="53.5" y1="274.3" x2="63" y2="274.3"/>
<line x1="53.5" y1="207.3" x2="63" y2="207.3"/>
<line x1="53.5" y1="140.2" x2="63" y2="140.2"/>
<line x1="53.5" y1="73.2" x2="63" y2="73.2"/>
<line x1="53.5" y1="6.1" x2="63" y2="6.1"/>
<line x1="103.5" y1="341.6" x2="103.5" y2="351"/>
<line x1="154.4" y1="341.6" x2="154.4" y2="351"/>
<line x1="197.6" y1="341.6" x2="197.6" y2="351"/>
<line x1="237.8" y1="341.6" x2="237.8" y2="351"/>
<line x1="275.5" y1="341.6" x2="275.5" y2="351"/>
<line x1="306.3" y1="341.6" x2="306.3" y2="351"/>
<line x1="340.1" y1="341.6" x2="340.1" y2="351"/>
<line x1="370.4" y1="341.6" x2="370.4" y2="351"/>
<line x1="402.7" y1="341.6" x2="402.7" y2="351"/>
<line x1="427.8" y1="341.6" x2="427.8" y2="351"/>
<line x1="454.9" y1="341.6" x2="454.9" y2="351"/>
<line x1="481.4" y1="341.6" x2="481.4" y2="351"/>
<line x1="504.0" y1="341.6" x2="504.0" y2="351"/>
<line x1="522.4" y1="341.6" x2="522.4" y2="346.6"/>
<line x1="539.6" y1="341.6" x2="539.6" y2="351"/>
<line x1="558.2" y1="341.6" x2="558.2" y2="346.6"/>
<line x1="574.6" y1="341.6" x2="574.6" y2="351"/>
<line x1="590.5" y1="341.6" x2="590.5" y2="346.6"/>
<line x1="602.4" y1="341.6" x2="602.4" y2="351"/>
<line x1="615.8" y1="341.6" x2="615.8" y2="346.6"/>
<line x1="625" y1="341.6" x2="625" y2="346.6"/>
<line x1="632.4" y1="341.6" x2="632.4" y2="346.6"/>
<line x1="651.2" y1="341.6" x2="651.2" y2="351"/>
</g>
<text x="51" y="347.2" font-size="14" text-anchor="end">0</text>
<text x="51" y="280.1" font-size="14" text-anchor="end">20</text>
<text x="51" y="213.1" font-size="14" text-anchor="end">40</text>
<text x="51" y="146.0" font-size="14" text-anchor="end">60</text>
<text x="51" y="79.0" font-size="14" text-anchor="end">80</text>
<text x="51" y="11.9" font-size="14" text-anchor="end">100</text>
<text x="102.7" y="367" font-size="14" text-anchor="middle">1</text>
<text x="155.2" y="367" font-size="14" text-anchor="middle">2</text>
<text x="198.4" y="367" font-size="14" text-anchor="middle">3</text>
<text x="238.6" y="367" font-size="14" text-anchor="middle">4</text>
<text x="276.3" y="367" font-size="14" text-anchor="middle">5</text>
<text x="307.1" y="367" font-size="14" text-anchor="middle">6</text>
<text x="340.9" y="367" font-size="14" text-anchor="middle">7</text>
<text x="371.2" y="367" font-size="14" text-anchor="middle">8</text>
<text x="403.5" y="367" font-size="14" text-anchor="middle">9</text>
<text x="428.6" y="367" font-size="14" text-anchor="middle">10</text>
<text x="455.7" y="367" font-size="14" text-anchor="middle">11</text>
<text x="482.2" y="367" font-size="14" text-anchor="middle">12</text>
<text x="504.8" y="367" font-size="14" text-anchor="middle">13</text>
<text x="540.4" y="367" font-size="14" text-anchor="middle">15</text>
<text x="575.4" y="367" font-size="14" text-anchor="middle">17</text>
<text x="603.2" y="367" font-size="14" text-anchor="middle">19</text>
<text x="652.0" y="367" font-size="14" text-anchor="middle">23</text>
<text x="374" y="388" font-size="16.8" text-anchor="middle">Chromosome</text>
<text transform="translate(17.8,173) rotate(-90)" font-size="16.5" text-anchor="middle">Observed –log<tspan font-size="9.5" dy="4.8">10</tspan><tspan dy="-4.8">(</tspan><tspan font-style="italic">P</tspan>)</text>
<text x="0" y="423.1" font-size="19.2" font-weight="bold" style="fill:#1c1c1c;stroke:#1c1c1c;stroke-width:0.55px">b</text>
<path d="M84.2,727.3 L98.0,725.3 L112.2,722.5 L135.7,721.0 L155.0,719.0 L170.0,717.3 L180.2,715.7 L190.4,713.8 L200.7,711.9 L210.9,709.8 L221.1,708.0 L231.3,706.8 L240.2,705.0 L250.4,702.4 L260.7,699.7 L270.9,697.0 L281.1,693.9 L291.3,689.8 L297.0,687.9 L307.5,683.7 L316.9,679.3 L325.0,675.9 L329.7,672.6 L336.7,667.4 L341.4,663.9 L343.1,661.3 L347.2,658.6 L354.2,652.8 L357.2,647.5 L360.1,642.8 L364.2,639.3 L367.0,634.3 L368.8,631.4 L372.3,628.8 L377.5,627.5 L381.5,625.3 L382.3,620.9 L385.0,617.0 L388.0,615.7 L391.5,612.2 L395.0,608.2 L399.0,604.7 L399.4,599.9 L402.0,597.3 L403.8,593.8 L405.1,589.4 L407.2,582.7 L410.8,577.9 L413.8,571.9 L415.0,567.1 L416.8,562.3 L417.4,558.7" fill="none" stroke="#b4a881" stroke-width="4.1" stroke-linecap="round" stroke-linejoin="round"/>
<path d="M418.0,539.5 L418.6,533.5 L419.2,528.7 L419.8,525.0 L422.8,521.4 L424.6,517.2 L425.8,511.8 L428.2,507.6 L432.3,503.8 L437.3,502.4 L442.5,501.8 L451.3,500.7 L460.0,499.8 L468.8,498.7 L473.6,497.0 L474.8,494.2 L475.2,491.3 L477.8,488.5 L485.0,487.0 L486.0,483.1 L488.9,479.4 L495.5,478.2 L504.2,476.2 L507.4,474.7" fill="none" stroke="#b4a881" stroke-width="4.1" stroke-linecap="round" stroke-linejoin="round"/>
<path d="M516.6,450.5 L527.6,448.5 L540.0,445.6" fill="none" stroke="#b4a881" stroke-width="4.1" stroke-linecap="round" stroke-linejoin="round"/>
<circle cx="417.4" cy="551.5" r="2.0" fill="#b4a881"/>
<circle cx="417.8" cy="547.9" r="2.0" fill="#b4a881"/>
<circle cx="417.8" cy="544.3" r="2.0" fill="#b4a881"/>
<circle cx="508.6" cy="471.8" r="2.0" fill="#b4a881"/>
<circle cx="510.4" cy="467" r="2.0" fill="#b4a881"/>
<circle cx="511.2" cy="465.5" r="2.0" fill="#b4a881"/>
<circle cx="512.3" cy="459" r="2.0" fill="#b4a881"/>
<circle cx="514.5" cy="457.2" r="2.0" fill="#b4a881"/>
<circle cx="543.8" cy="445.2" r="2.0" fill="#b4a881"/>
<circle cx="546.9" cy="444.8" r="2.0" fill="#b4a881"/>
<circle cx="551" cy="444.2" r="2.0" fill="#b4a881"/>
<circle cx="554.7" cy="443.9" r="2.0" fill="#b4a881"/>
<circle cx="558.8" cy="443.9" r="2.0" fill="#b4a881"/>
<circle cx="563.5" cy="443.9" r="2.0" fill="#b4a881"/>
<circle cx="569.8" cy="443.6" r="2.0" fill="#b4a881"/>
<circle cx="577.3" cy="443.3" r="2.0" fill="#b4a881"/>
<circle cx="586.1" cy="442" r="2.0" fill="#b4a881"/>
<circle cx="597.7" cy="439.2" r="2.0" fill="#b4a881"/>
<circle cx="616" cy="438.2" r="2.0" fill="#b4a881"/>
<circle cx="655.5" cy="425.1" r="2.0" fill="#b4a881"/>
<line x1="63" y1="727.6" x2="685" y2="704.4" stroke="#c9424a" stroke-width="2.2"/>
<g stroke="#999999" stroke-width="1.3" fill="none"><path d="M63,414 V738.3 H685"/>
<line x1="53.5" y1="726.6" x2="63" y2="726.6"/>
<line x1="53.5" y1="664.9" x2="63" y2="664.9"/>
<line x1="53.5" y1="603.3" x2="63" y2="603.3"/>
<line x1="53.5" y1="541.6" x2="63" y2="541.6"/>
<line x1="53.5" y1="480.0" x2="63" y2="480.0"/>
<line x1="53.5" y1="418.3" x2="63" y2="418.3"/>
<line x1="85.5" y1="738.3" x2="85.5" y2="747.5"/>
<line x1="167.9" y1="738.3" x2="167.9" y2="747.5"/>
<line x1="250.3" y1="738.3" x2="250.3" y2="747.5"/>
<line x1="332.7" y1="738.3" x2="332.7" y2="747.5"/>
<line x1="415.1" y1="738.3" x2="415.1" y2="747.5"/>
<line x1="497.5" y1="738.3" x2="497.5" y2="747.5"/>
<line x1="579.9" y1="738.3" x2="579.9" y2="747.5"/>
<line x1="662.3" y1="738.3" x2="662.3" y2="747.5"/>
</g>
<text x="51" y="732.2" font-size="14" text-anchor="end">0</text>
<text x="51" y="670.5" font-size="14" text-anchor="end">20</text>
<text x="51" y="608.9" font-size="14" text-anchor="end">40</text>
<text x="51" y="547.2" font-size="14" text-anchor="end">60</text>
<text x="51" y="485.6" font-size="14" text-anchor="end">80</text>
<text x="51" y="423.9" font-size="14" text-anchor="end">100</text>
<text x="86.3" y="764" font-size="14" text-anchor="middle">0</text>
<text x="168.7" y="764" font-size="14" text-anchor="middle">1</text>
<text x="251.1" y="764" font-size="14" text-anchor="middle">2</text>
<text x="333.5" y="764" font-size="14" text-anchor="middle">3</text>
<text x="415.9" y="764" font-size="14" text-anchor="middle">4</text>
<text x="498.3" y="764" font-size="14" text-anchor="middle">5</text>
<text x="580.7" y="764" font-size="14" text-anchor="middle">6</text>
<text x="663.1" y="764" font-size="14" text-anchor="middle">7</text>
<text x="374.5" y="785" font-size="16.5" text-anchor="middle">Expected –log<tspan font-size="9.5" dy="4.8">10</tspan><tspan dy="-4.8">(</tspan><tspan font-style="italic">P</tspan>)</text>
<text transform="translate(17.8,584.5) rotate(-90)" font-size="16.5" text-anchor="middle">Observed –log<tspan font-size="9.5" dy="4.8">10</tspan><tspan dy="-4.8">(</tspan><tspan font-style="italic">P</tspan>)</text>
</svg>
</body></html>
